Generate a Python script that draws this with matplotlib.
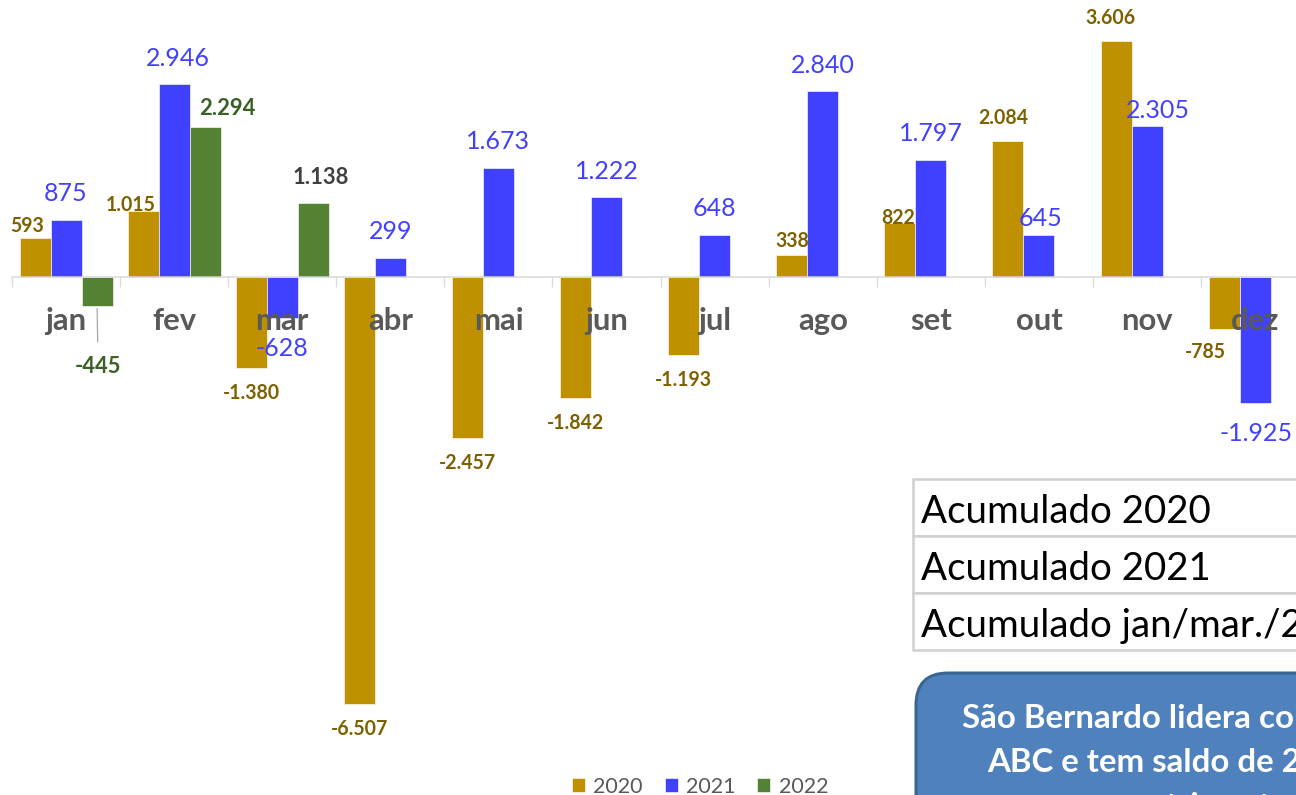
import numpy as np
import matplotlib
matplotlib.use("Agg")
import matplotlib.pyplot as plt
from matplotlib.patches import Rectangle, FancyBboxPatch

plt.rcParams['font.family'] = ['Lato', 'DejaVu Sans']

# dados
meses = ['jan', 'fev', 'mar', 'abr', 'mai', 'jun', 'jul', 'ago', 'set', 'out', 'nov', 'dez']
s2020 = [593, 1015, -1380, -6507, -2457, -1842, -1193, 338, 822, 2084, 3606, -785]
s2021 = [875, 2946, -628, 299, 1673, 1222, 648, 2840, 1797, 645, 2305, -1925]
s2022 = [-445, 2294, 1138]
anos = ['2020', '2021', '2022']

c2020, c2021, c2022 = '#BF9000', '#4040FF', '#548235'
t2020, t2021, t2022 = '#7F6000', '#4040FF', '#3B6126'

def fmt(v):
    return f"{v:,}".replace(",", ".")

W, H = 1296, 795
fig = plt.figure(figsize=(W / 72, H / 72), dpi=72)

# eixo principal (em pixels: zero em y=277, 108.1 px por mes, 0.0655 px por vaga)
y0 = 277.3
k = 0.0655
passo = 108.1
ax = fig.add_axes([12 / W, 0, 12 * passo / W, 1])
ax.set_xlim(-0.5, 11.5)
ax.set_ylim(-(H - y0) / k, y0 / k)

x = np.arange(12)
w = 0.287
b0 = ax.bar(x - w, s2020, w, color=c2020, edgecolor='white', linewidth=0.6, label=anos[0])
b1 = ax.bar(x, s2021, w, color=c2021, edgecolor='white', linewidth=0.6, label=anos[1])
b2 = ax.bar(x[:3] + w, s2022, w, color=c2022, edgecolor='white', linewidth=0.6, label=anos[2])

for sp in ['top', 'left', 'right']:
    ax.spines[sp].set_visible(False)
ax.spines['bottom'].set_position(('data', 0))
ax.spines['bottom'].set_color('#D9D9D9')
ax.spines['bottom'].set_linewidth(1.5)
ax.set_yticks([])
ax.set_xticks(np.arange(-0.5, 12, 1))
ax.set_xticklabels([])
ax.tick_params(axis='x', direction='out', length=10, width=1.3, color='#D9D9D9')

for i, m in enumerate(meses):
    ax.annotate(m, (x[i], 0), xytext=(0, -53), textcoords='offset points',
                ha='center', va='baseline', fontsize=31, fontweight='bold',
                color='#595959', zorder=5)

# rotulos de dados
ajuste2020 = {0: (-8, -11), 1: (-12, -17), 7: (0, -9), 8: (-2, -18), 9: (-5, 0),
              10: (-6, 0), 11: (-19, 2)}
ajuste2021 = {1: (4, 0), 9: (2, -9), 10: (11, -10), 11: (1, 0)}
for i, v in enumerate(s2020):
    dx, dy = ajuste2020.get(i, (0, 0))
    base = 23 if v > 0 else -25
    ax.annotate(fmt(v), (x[i] - w, v), xytext=(dx, base + dy), textcoords='offset points',
                ha='center', va='center', fontsize=19.5, fontweight='bold', color=t2020, zorder=6)
for i, v in enumerate(s2021):
    dx, dy = ajuste2021.get(i, (0, 0))
    base = 26 if v > 0 else -30
    ax.annotate(fmt(v), (x[i], v), xytext=(dx, base + dy), textcoords='offset points',
                ha='center', va='center', fontsize=25, color=t2021, zorder=6)

cores2022 = [t2022, t2022, '#404040']
ajuste2022 = [(1, -60), (22, 19), (7, 25)]
for i, v in enumerate(s2022):
    dx, dy = ajuste2022[i]
    if v < 0:
        ax.annotate(fmt(v), (x[i] + w, v), xytext=(dx, dy), textcoords='offset points',
                    ha='center', va='center', fontsize=22, fontweight='bold', color=cores2022[i],
                    arrowprops=dict(arrowstyle='-', color='#A6A6A6', lw=1.2,
                                    shrinkA=12, shrinkB=2), zorder=6)
    else:
        ax.annotate(fmt(v), (x[i] + w, v), xytext=(dx, dy), textcoords='offset points',
                    ha='center', va='center', fontsize=22, fontweight='bold', color=cores2022[i], zorder=6)

leg = fig.legend(handles=[b0, b1, b2], loc='center', bbox_to_anchor=(700 / W, 1 - 787 / H),
                 ncol=3, frameon=False, fontsize=21.5, handlelength=0.62, handleheight=0.62,
                 handletextpad=0.38, columnspacing=1.0, borderpad=0)
for t in leg.get_texts():
    t.set_color('#595959')

# camada em pixels para tabela e caixa
ov = fig.add_axes([0, 0, 1, 1])
ov.set_xlim(0, W)
ov.set_ylim(H, 0)
ov.axis('off')

linhas = ['Acumulado 2020', 'Acumulado 2021', 'Acumulado jan/mar./2022']
totais = [sum(s2020), sum(s2021), sum(s2022)]
topo = [479, 536, 593]
for j, txt in enumerate(linhas):
    ov.add_patch(Rectangle((913, topo[j]), 600, 56.5, facecolor='white',
                           edgecolor='#D0D0D0', linewidth=2.5))
    ov.text(921, topo[j] + 44, txt, fontsize=38.5, color='black', va='baseline', ha='left')
    ov.text(1460, topo[j] + 44, fmt(totais[j]), fontsize=38.5, color='black', va='baseline', ha='right')

ov.add_patch(FancyBboxPatch((916, 673), 700, 220, boxstyle='round,pad=0,rounding_size=32',
                            facecolor='#4F81BD', edgecolor='#3A6592', linewidth=3))
caixa = ['São Bernardo lidera contratações no',
         'ABC e tem saldo de ' + fmt(sum(s2022)) + ' vagas',
         'no trimestre']
xs = [962, 987, 1120]
for j, txt in enumerate(caixa):
    ov.text(xs[j], 728 + 44 * j, txt, fontsize=33, fontweight='bold', color='white',
            va='baseline', ha='left')

fig.savefig('out.png', dpi=72)
